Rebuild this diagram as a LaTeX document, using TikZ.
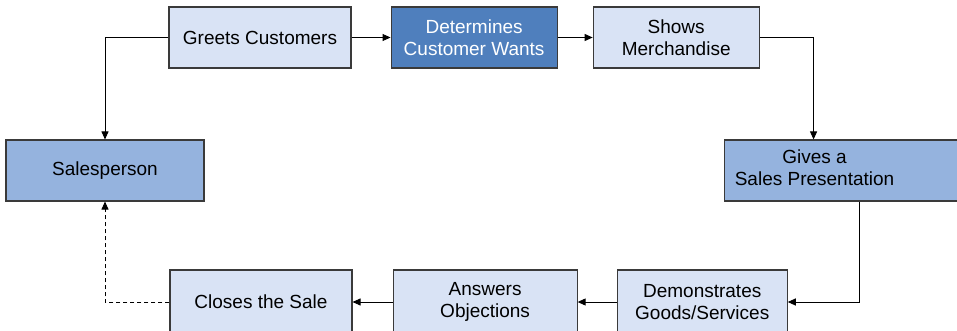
\documentclass[tikz,border=0pt]{standalone}
\usepackage{fontspec}
\setmainfont{Liberation Sans}
\usepackage{xcolor}
\usetikzlibrary{arrows.meta,positioning}

\definecolor{lightfill}{HTML}{D9E3F5}
\definecolor{midfill}{HTML}{95B3DE}
\definecolor{darkfill}{HTML}{4F7FBD}
\definecolor{boxline}{HTML}{3A3A3A}

\begin{document}
\begin{tikzpicture}[
  x=1pt, y=-1pt,
  block/.style={rectangle, draw=boxline, line width=1.1pt, minimum height=61pt, align=center, inner sep=2pt, font=\fontsize{19}{22}\selectfont},
  light/.style={block, fill=lightfill},
  mid/.style={block, fill=midfill},
  dark/.style={block, fill=darkfill, text=white},
  arr/.style={-{Triangle[length=8pt, width=7pt]}, line width=0.9pt},
  dashedarr/.style={arr, dash pattern=on 4pt off 3pt}
]
\useasboundingbox (0,0) rectangle (957,331);
\clip (0,0) rectangle (957,331);

% top row
\node[light, minimum width=182pt] (greets) at (260,37.5) {Greets Customers};
\node[dark, minimum width=166pt, right=39pt of greets] (wants) {Determines\\Customer Wants};
\node[light, minimum width=166pt, right=35pt of wants] (shows) {Shows\\Merchandise};

% middle row
\node[mid, minimum width=198pt] (sales) at (105,170.5) {Salesperson};
\node[mid, minimum width=236pt, anchor=west] (gives) at (724,170.5)
  {\begin{tabular}{@{}c@{}}Gives a\\Sales Presentation\end{tabular}\hspace*{56pt}};

% bottom row
\node[light, minimum width=182pt, minimum height=64pt] (closes) at (261,302) {Closes the Sale};
\node[light, minimum width=184pt, minimum height=64pt, right=40pt of closes] (answers) {Answers\\Objections};
\node[light, minimum width=170pt, minimum height=64pt, right=39pt of answers] (demo) {Demonstrates\\Goods/Services};

\foreach \a/\b in {greets/wants, wants/shows, demo/answers, answers/closes}
  \draw[arr] (\a) -- (\b);

\draw[arr] (greets.west) -| (sales.north);
\draw[arr] (shows.east) -| ([xshift=-29pt]gives.north);
\draw[arr] ([xshift=17pt]gives.south) |- (demo.east);
\draw[dashedarr] (closes.west) -| (sales.south);

\end{tikzpicture}
\end{document}
